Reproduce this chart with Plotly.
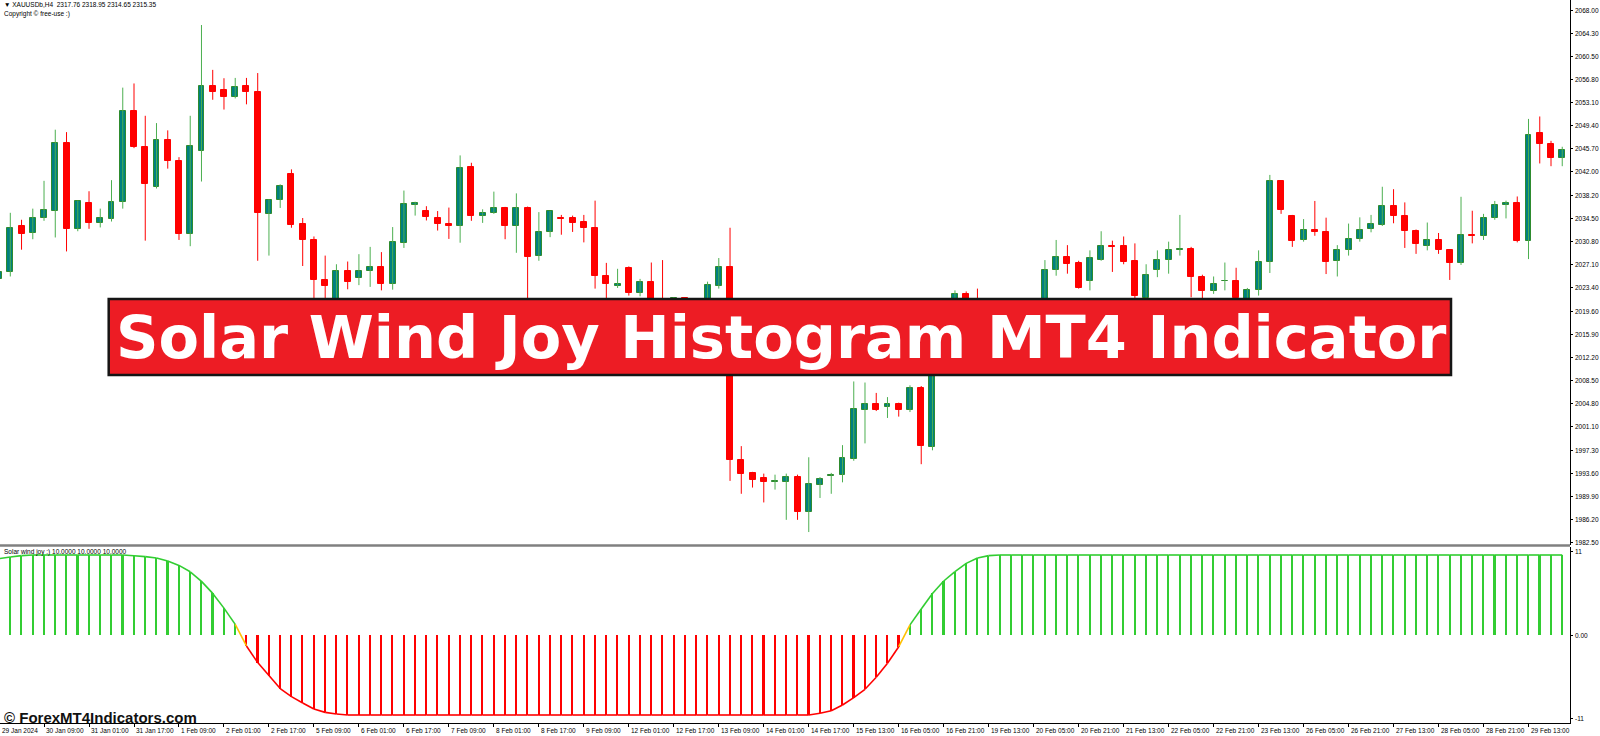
#!/usr/bin/env python

import plotly.graph_objs as go

# XAUUSDb H4 candles, one per bar (index 0 = partly hidden bar at left edge)
opens = [
    2024.79, 2025.90, 2033.33, 2032.21, 2034.61, 2035.78, 2046.72, 2032.88, 2037.01, 2033.83,
    2034.50, 2037.12, 2051.75, 2046.05, 2039.63, 2047.17, 2043.82, 2031.99, 2045.44, 2055.88,
    2055.09, 2054.03, 2055.76, 2054.82, 2035.28, 2037.57, 2041.75, 2033.61, 2031.15, 2024.62,
    2020.49, 2026.07, 2024.95, 2026.07, 2026.74, 2024.01, 2030.65, 2036.73, 2035.78, 2034.67,
    2033.61, 2033.38, 2042.76, 2035.00, 2035.39, 2036.29, 2033.33, 2036.23, 2028.58, 2032.32,
    2034.67, 2034.55, 2034.00, 2032.94, 2025.35, 2023.73, 2026.52, 2022.56, 2024.29, 2020.77,
    2019.93, 2021.77, 2020.49, 2019.37, 2023.73, 2026.74, 1995.82, 1993.70, 1992.86, 1992.30,
    1992.30, 1993.03, 1987.45, 1991.75, 1993.25, 1993.31, 1995.93, 2003.75, 2004.69, 2004.30,
    2004.69, 2003.75, 2007.37, 1997.89, 2013.79, 2019.37, 2022.44, 2021.05, 2019.37, 2017.14,
    2018.82, 2016.03, 2018.26, 2020.49, 2026.24, 2028.30, 2027.36, 2024.51, 2027.91, 2030.20,
    2030.15, 2027.69, 2021.83, 2026.24, 2027.86, 2029.48, 2029.70, 2025.07, 2022.83, 2024.45,
    2024.51, 2021.05, 2023.00, 2027.63, 2040.58, 2035.00, 2031.09, 2032.77, 2032.38, 2027.75,
    2029.42, 2031.32, 2032.88, 2033.49, 2036.51, 2035.00, 2032.60, 2030.15, 2031.09, 2029.42,
    2027.36, 2031.88, 2031.65, 2034.55, 2036.68, 2036.95, 2030.93, 2048.28, 2046.55, 2044.21,
]
highs = [
    2026.07, 2035.45, 2034.33, 2036.12, 2040.58, 2048.79, 2048.40, 2037.40, 2038.91, 2036.12,
    2040.69, 2055.54, 2056.21, 2051.02, 2049.85, 2048.68, 2044.38, 2051.02, 2065.59, 2058.39,
    2057.05, 2057.10, 2057.10, 2057.88, 2037.62, 2040.02, 2042.42, 2034.61, 2031.65, 2028.58,
    2027.19, 2027.63, 2028.81, 2029.98, 2029.14, 2033.16, 2039.02, 2037.23, 2036.51, 2035.73,
    2036.29, 2044.66, 2043.48, 2036.01, 2038.85, 2036.40, 2038.57, 2036.45, 2035.56, 2035.73,
    2035.11, 2035.00, 2035.11, 2037.40, 2027.41, 2026.46, 2026.85, 2024.84, 2027.47, 2027.86,
    2021.89, 2021.89, 2021.05, 2024.40, 2028.19, 2033.05, 1998.00, 1993.87, 1993.59, 1993.42,
    1993.59, 1993.42, 1996.21, 1993.03, 1993.70, 1998.16, 2008.38, 2008.21, 2006.54, 2005.87,
    2004.97, 2007.76, 2007.65, 2014.91, 2020.49, 2023.00, 2022.83, 2023.28, 2020.49, 2019.65,
    2019.37, 2019.09, 2021.05, 2027.86, 2031.09, 2030.26, 2027.75, 2029.42, 2032.49, 2030.98,
    2031.65, 2030.54, 2027.19, 2029.42, 2030.82, 2035.11, 2029.98, 2025.51, 2025.23, 2027.47,
    2026.63, 2023.39, 2029.42, 2041.53, 2040.69, 2035.11, 2034.44, 2037.35, 2034.67, 2030.26,
    2033.72, 2034.72, 2035.11, 2039.63, 2039.24, 2037.12, 2032.77, 2033.89, 2032.21, 2029.53,
    2038.02, 2035.78, 2035.28, 2037.35, 2037.40, 2038.07, 2050.52, 2050.91, 2047.00, 2046.05,
]
lows = [
    2024.62, 2025.23, 2029.53, 2031.21, 2034.16, 2031.49, 2029.25, 2032.49, 2032.88, 2033.10,
    2034.05, 2036.12, 2045.83, 2030.98, 2039.35, 2042.54, 2031.09, 2030.09, 2040.47, 2053.59,
    2052.02, 2053.81, 2052.86, 2027.75, 2028.58, 2036.23, 2033.05, 2026.91, 2020.49, 2021.05,
    2019.93, 2023.17, 2023.84, 2023.56, 2023.00, 2023.11, 2029.81, 2035.00, 2034.22, 2032.60,
    2031.26, 2030.65, 2034.16, 2033.83, 2035.28, 2031.21, 2029.03, 2019.37, 2027.75, 2031.54,
    2031.93, 2032.38, 2030.70, 2023.28, 2021.05, 2023.39, 2022.16, 2022.05, 2019.93, 2019.09,
    2019.65, 2019.93, 2018.54, 2018.82, 2023.28, 1992.42, 1990.35, 1991.35, 1988.96, 1991.02,
    1986.17, 1986.17, 1984.21, 1989.68, 1990.35, 1992.19, 1995.65, 1998.44, 2003.63, 2002.52,
    2002.74, 2003.47, 1995.10, 1997.33, 2013.23, 2018.82, 2020.49, 2018.82, 2016.03, 2016.30,
    2015.19, 2014.91, 2017.70, 2019.93, 2025.35, 2025.68, 2023.28, 2023.00, 2027.75, 2025.96,
    2027.19, 2021.72, 2021.61, 2025.12, 2025.68, 2028.58, 2021.89, 2021.61, 2022.44, 2023.00,
    2021.61, 2020.49, 2022.16, 2025.79, 2035.28, 2029.98, 2030.82, 2031.76, 2025.62, 2025.23,
    2028.58, 2030.82, 2032.32, 2033.33, 2033.77, 2029.81, 2028.86, 2029.42, 2028.86, 2024.67,
    2027.08, 2030.54, 2031.09, 2034.33, 2034.55, 2030.70, 2028.02, 2043.37, 2042.93, 2042.93,
]
closes = [
    2025.90, 2032.94, 2032.10, 2034.67, 2035.84, 2046.72, 2032.88, 2037.29, 2033.83, 2034.55,
    2037.18, 2051.80, 2045.94, 2040.02, 2047.17, 2043.76, 2031.99, 2046.16, 2055.88, 2054.87,
    2053.98, 2055.65, 2054.76, 2035.45, 2037.57, 2039.75, 2033.55, 2031.15, 2024.62, 2023.67,
    2026.07, 2024.40, 2026.18, 2026.74, 2024.01, 2030.82, 2036.79, 2037.01, 2034.72, 2033.61,
    2033.38, 2042.70, 2034.95, 2035.34, 2036.23, 2033.33, 2036.23, 2028.42, 2032.32, 2035.67,
    2034.44, 2033.89, 2032.94, 2025.35, 2023.95, 2023.95, 2022.56, 2024.40, 2020.49, 2019.65,
    2021.77, 2020.49, 2019.37, 2023.84, 2026.74, 1995.82, 1993.53, 1992.58, 1992.30, 1992.42,
    1992.97, 1987.45, 1991.86, 1992.70, 1993.42, 1996.04, 2003.91, 2004.69, 2003.75, 2004.69,
    2003.75, 2007.37, 1998.05, 2013.79, 2019.37, 2022.44, 2021.05, 2019.37, 2017.14, 2018.82,
    2016.03, 2018.26, 2020.49, 2026.35, 2028.30, 2027.19, 2023.39, 2028.14, 2030.15, 2030.03,
    2027.58, 2022.05, 2025.51, 2027.86, 2029.53, 2029.64, 2025.07, 2022.83, 2023.95, 2024.56,
    2021.77, 2023.00, 2027.63, 2040.58, 2035.84, 2030.98, 2032.77, 2032.32, 2027.58, 2029.42,
    2031.32, 2032.77, 2033.61, 2036.51, 2035.00, 2032.49, 2030.37, 2031.09, 2029.42, 2027.47,
    2031.88, 2031.65, 2034.55, 2036.68, 2036.95, 2030.93, 2047.95, 2046.55, 2044.32, 2045.61,
]

# Solar wind joy histogram value per bar
joy = [
    9.55, 9.75, 9.92, 10.0, 10.0, 10.0, 10.0, 10.0, 10.0, 10.0,
    10.0, 10.0, 9.9, 9.8, 9.63, 9.25, 8.7, 7.9, 6.7, 5.2,
    3.36, 1.33, -1.37, -3.45, -5.07, -6.7, -7.7, -8.5, -9.25, -9.67,
    -9.88, -10.0, -10.0, -10.0, -10.0, -10.0, -10.0, -10.0, -10.0, -10.0,
    -10.0, -10.0, -10.0, -10.0, -10.0, -10.0, -10.0, -10.0, -10.0, -10.0,
    -10.0, -10.0, -10.0, -10.0, -10.0, -10.0, -10.0, -10.0, -10.0, -10.0,
    -10.0, -10.0, -10.0, -10.0, -10.0, -10.0, -10.0, -10.0, -10.0, -10.0,
    -10.0, -10.0, -10.0, -9.79, -9.46, -8.75, -7.83, -6.79, -5.29, -3.54,
    -1.46, 1.27, 3.25, 5.19, 6.75, 7.93, 8.95, 9.62, 9.92, 10.0,
    10.0, 10.0, 10.0, 10.0, 10.0, 10.0, 10.0, 10.0, 10.0, 10.0,
    10.0, 10.0, 10.0, 10.0, 10.0, 10.0, 10.0, 10.0, 10.0, 10.0,
    10.0, 10.0, 10.0, 10.0, 10.0, 10.0, 10.0, 10.0, 10.0, 10.0,
    10.0, 10.0, 10.0, 10.0, 10.0, 10.0, 10.0, 10.0, 10.0, 10.0,
    10.0, 10.0, 10.0, 10.0, 10.0, 10.0, 10.0, 10.0, 10.0, 10.0,
]

# one date label every 4 bars
date_labels = [
    "29 Jan 2024", "30 Jan 09:00", "31 Jan 01:00", "31 Jan 17:00", "1 Feb 09:00",
    "2 Feb 01:00", "2 Feb 17:00", "5 Feb 09:00", "6 Feb 01:00", "6 Feb 17:00",
    "7 Feb 09:00", "8 Feb 01:00", "8 Feb 17:00", "9 Feb 09:00", "12 Feb 01:00",
    "12 Feb 17:00", "13 Feb 09:00", "14 Feb 01:00", "14 Feb 17:00", "15 Feb 13:00",
    "16 Feb 05:00", "16 Feb 21:00", "19 Feb 13:00", "20 Feb 05:00", "20 Feb 21:00",
    "21 Feb 13:00", "22 Feb 05:00", "22 Feb 21:00", "23 Feb 13:00", "26 Feb 05:00",
    "26 Feb 21:00", "27 Feb 13:00", "28 Feb 05:00", "28 Feb 21:00", "29 Feb 13:00",
]

price_ticks = [
    2068.00, 2064.30, 2060.50, 2056.80, 2053.10, 2049.40, 2045.70, 2042.00,
    2038.20, 2034.50, 2030.80, 2027.10, 2023.40, 2019.60, 2015.90, 2012.20,
    2008.50, 2004.80, 2001.10, 1997.30, 1993.60, 1989.90, 1986.20, 1982.50,
]

joy_ticks = [10.45, 0, -10.45]
joy_tick_labels = ["11", "0.00", "-11"]

W, H = 1600, 736
PLOT_W, PLOT_H = 1570, 723
BAR_PX = 11.246   # chart shift: pixels per bar
FIRST_PX = -0.95  # pixel of bar 0
SMALL = dict(family="Liberation Sans, Arial, sans-serif", size=6.5, color="#000000")

BULL_FILL = "#008080"
BULL_LINE = "#2E8B2E"
BULL_WICK = "#4CAF50"
BEAR = "#FF0000"
JOY_UP = "#32CD32"
JOY_DN = "#FF0000"
JOY_CROSS = "#FFC000"


def px(x):
    return x / PLOT_W


def py(y):
    return 1 - y / PLOT_H


def wick_trace(idx, color):
    xs, ys = [], []
    for i in idx:
        xs += [i, i, None]
        ys += [lows[i], highs[i], None]
    return go.Scatter(x=xs, y=ys, mode="lines", line=dict(color=color, width=1),
                      hoverinfo="skip", xaxis="x", yaxis="y")


def curve_traces(xs):
    segs = {JOY_UP: ([], []), JOY_DN: ([], []), JOY_CROSS: ([], [])}
    for i in range(len(joy) - 1):
        a, b = joy[i], joy[i + 1]
        if a > 0 and b > 0:
            c = JOY_UP
        elif a < 0 and b < 0:
            c = JOY_DN
        else:
            c = JOY_CROSS
        segs[c][0].extend([xs[i], xs[i + 1], None])
        segs[c][1].extend([a, b, None])
    return [go.Scatter(x=sx, y=sy, mode="lines", line=dict(color=c, width=1.6),
                       hoverinfo="skip", xaxis="x2", yaxis="y2")
            for c, (sx, sy) in segs.items()]


def build_plot():
    n = len(opens)
    xs = list(range(n))
    bull = [i for i in xs if closes[i] >= opens[i]]
    bear = [i for i in xs if closes[i] < opens[i]]

    fig = go.Figure()
    fig.add_trace(wick_trace(bull, BULL_WICK))
    fig.add_trace(wick_trace(bear, BEAR))

    base = [min(opens[i], closes[i]) for i in xs]
    body = [max(abs(closes[i] - opens[i]), 0.08) for i in xs]
    fill = [BULL_FILL if closes[i] >= opens[i] else BEAR for i in xs]
    edge = [BULL_LINE if closes[i] >= opens[i] else BEAR for i in xs]
    fig.add_trace(go.Bar(x=xs, y=body, base=base, width=0.53,
                         marker=dict(color=fill, line=dict(color=edge, width=1)),
                         hoverinfo="skip", xaxis="x", yaxis="y"))

    hist_col = [JOY_UP if v > 0 else JOY_DN for v in joy]
    fig.add_trace(go.Bar(x=xs, y=joy, width=0.14, marker=dict(color=hist_col, line=dict(width=0)),
                         hoverinfo="skip", xaxis="x2", yaxis="y2"))
    for t in curve_traces(xs):
        fig.add_trace(t)

    date_ticks = list(range(0, 4 * len(date_labels), 4))
    xrange = [-FIRST_PX / BAR_PX, (PLOT_W - FIRST_PX) / BAR_PX]
    axis_common = dict(ticks="outside", tickcolor="#000000", tickwidth=1, showgrid=False,
                       zeroline=False, showline=True, linecolor="#000000", linewidth=1,
                       showticklabels=False)
    fig.update_layout(
        width=W, height=H,
        margin=dict(l=0, r=W - PLOT_W, t=0, b=H - PLOT_H),
        paper_bgcolor="white", plot_bgcolor="white",
        showlegend=False, barmode="overlay", bargap=0,
        xaxis=dict(domain=[0, 1], range=xrange, anchor="y", showticklabels=False,
                   showgrid=False, zeroline=False, showline=False, ticks=""),
        xaxis2=dict(domain=[0, 1], range=xrange, anchor="y2", tickvals=date_ticks,
                    ticklen=3, **axis_common),
        yaxis=dict(domain=[(PLOT_H - 545) / PLOT_H, 1], range=[1982.131, 2069.605],
                   side="right", anchor="x", tickvals=price_ticks, ticklen=2, **axis_common),
        yaxis2=dict(domain=[0, (PLOT_H - 547) / PLOT_H], range=[-11, 11],
                    side="right", anchor="x2", tickvals=joy_ticks, ticklen=2, **axis_common),
    )

    # axis labels, MT4 style: left-aligned next to their tick marks
    # (paper x so the first label, whose bar sits just off the left edge, still shows)
    for t, lab in zip(date_ticks, date_labels):
        x0 = max(FIRST_PX + BAR_PX * t, 0)
        fig.add_annotation(x=px(x0), xref="paper", y=py(730), yref="paper", text=lab,
                           showarrow=False, xanchor="left", yanchor="middle", font=SMALL)
    for v in price_ticks:
        fig.add_annotation(x=px(PLOT_W + 3), xref="paper", y=v, yref="y", text="%.2f" % v,
                           showarrow=False, xanchor="left", yanchor="middle", font=SMALL)
    for v, lab in zip(joy_ticks, joy_tick_labels):
        fig.add_annotation(x=px(PLOT_W + 3), xref="paper", y=v, yref="y2", text=lab,
                           showarrow=False, xanchor="left", yanchor="middle", font=SMALL)

    # panel separator and title banner
    fig.add_shape(type="line", xref="paper", yref="paper", x0=0, x1=1,
                  y0=py(545.5), y1=py(545.5), line=dict(color="#808080", width=2.5),
                  layer="above")
    fig.add_shape(type="rect", xref="paper", yref="paper",
                  x0=px(108.7), x1=px(1451), y0=py(375), y1=py(299),
                  fillcolor="#ED1C24", line=dict(color="#151515", width=2.5), layer="above")

    notes = [
        (2, 4.8, "\u25bc XAUUSDb,H4\u00a0\u00a02317.76 2318.95 2314.65 2315.35", SMALL),
        (2, 14, "Copyright \u00a9 free-use :)", SMALL),
        (2, 552, "Solar wind joy :) 10.0000 10.0000 10.0000", SMALL),
        (2, 717, "<b>\u00a9 ForexMT4Indicators.com</b>",
         dict(family="Liberation Sans, Arial, sans-serif", size=15, color="#111111")),
    ]
    for x, y, text, font in notes:
        fig.add_annotation(x=px(x), y=py(y), xref="paper", yref="paper", text=text,
                           showarrow=False, xanchor="left", yanchor="middle", font=font)

    fig.add_annotation(x=px(781), y=py(337), xref="paper", yref="paper",
                       text="<b>Solar Wind Joy Histogram MT4 Indicator</b>", showarrow=False,
                       xanchor="center", yanchor="middle",
                       font=dict(family="DejaVu Sans, sans-serif", size=59, color="#FFFFFF"))

    # the page's default body margin would push the figure 8 px off the window
    fig.write_html("out.html", config={"displayModeBar": False},
                   post_script="document.body.style.margin='0';"
                               "document.body.style.overflow='hidden';")


def main():
    build_plot()


main()
